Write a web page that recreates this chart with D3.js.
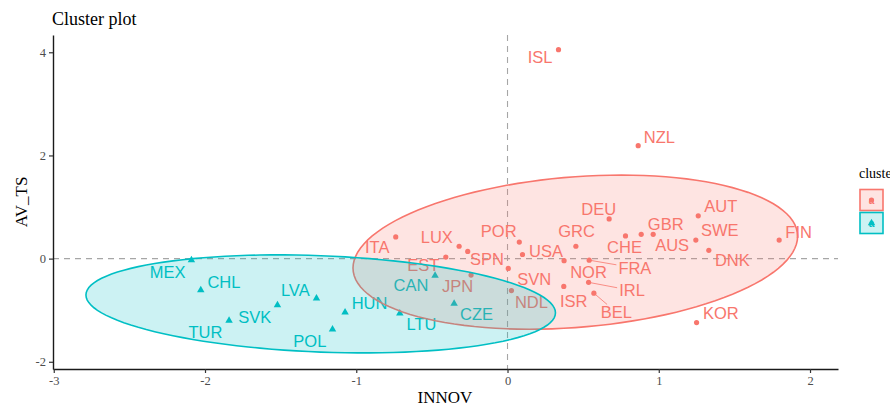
<!DOCTYPE html>
<html><head><meta charset="utf-8">
<script src="https://cdn.jsdelivr.net/npm/d3@7/dist/d3.min.js"></script>
<style>body{margin:0;background:#fff;} svg{display:block;}</style>
</head><body><svg id="chart" width="890" height="407"></svg>
<script>
// ---------------- data ----------------
const countries1 = ["ISL","NZL","DEU","AUT","GBR","CHE","AUS","SWE","DNK","FIN","KOR","ITA","LUX","SPN","EST","POR","USA","GRC","SVN","JPN","NDL","NOR","FRA","ISR","IRL","BEL"];
const innov1 = [0.337,0.864,0.672,1.261,0.884,0.780,0.963,1.245,1.331,1.796,1.250,-0.739,-0.320,-0.263,-0.408,0.078,0.099,0.452,0.005,-0.241,0.026,0.374,0.540,0.372,0.536,0.571];
const avts1  = [4.05,2.19,0.77,0.83,0.47,0.44,0.47,0.36,0.16,0.36,-1.24,0.42,0.24,0.14,0.03,0.32,0.08,0.24,-0.19,-0.32,-0.62,-0.04,-0.03,-0.54,-0.46,-0.67];
const countries2 = ["MEX","CHL","LVA","SVK","TUR","POL","HUN","LTU","CAN","CZE"];
const innov2 = [-2.090,-2.028,-1.263,-1.521,-1.841,-1.157,-1.074,-0.712,-0.479,-0.353];
const avts2  = [-0.03,-0.61,-0.77,-0.90,-1.20,-1.37,-1.04,-1.06,-0.33,-0.87];
const clusterNames = ["1","2"];
const xTicks = [-3,-2,-1,0,1,2];
const yTicks = [-2,0,2,4];
const titleText = "Cluster plot", xTitle = "INNOV", yTitle = "AV_TS", legendTitle = "cluster";

// ---------------- layout / style ----------------
const colors = ["#F8766D","#00BFC4"];
const labelOffsets = { // pixel offsets of repelled labels (label centre - point)
  ISL:[-18.4,7.8], NZL:[21.2,-8.5], DEU:[-10.5,-9.5], AUT:[22.5,-9.9], GBR:[24.5,-10.1], CHE:[-1,10.7],
  AUS:[19,11], SWE:[24,-10], DNK:[23.5,9.8], FIN:[19.5,-7.9], KOR:[24.3,-9.2], ITA:[-18.5,10],
  LUX:[-22.3,-9], SPN:[19.3,7.4], EST:[-22.4,7.7], POR:[-20.6,-10.9], USA:[23.5,-3.3], GRC:[0.7,-15.4],
  SVN:[26,10.8], JPN:[-13.5,11.2], NDL:[20,11.8], NOR:[24.4,11], FRA:[45.7,7.8], ISR:[10,14.6],
  IRL:[43.4,8.2], BEL:[22.5,19.2],
  MEX:[-23.7,11.7], CHL:[23.2,-8.3], LVA:[-21.2,-7.9], SVK:[-22.7,11.7], TUR:[-23.7,11.1],
  POL:[-22.7,11.5], HUN:[24.5,-9.4], LTU:[21.7,10.6], CAN:[-24.1,9.8], CZE:[22.5,11]
};
const labelFont = 16.5, capH = labelFont*0.716;

const svg = d3.select("#chart");
const x = d3.scaleLinear().domain([-3.005, 2.185]).range([53, 838]);
const y = d3.scaleLinear().domain([-2.14, 4.335]).range([369, 35]);

// clusters
const clusters = [
  {name: clusterNames[0], pts: countries1.map((c,i)=>({name:c, x:innov1[i], y:avts1[i]}))},
  {name: clusterNames[1], pts: countries2.map((c,i)=>({name:c, x:innov2[i], y:avts2[i]}))}
];

// MASS::cov.trob
function covTrob(P, nu=5, maxit=25, tol=0.01){
  const n = P.length, p = 2;
  let loc = [d3.mean(P,d=>d[0]), d3.mean(P,d=>d[1])];
  let w = P.map(()=>1), X;
  for(let it=0; it<maxit; it++){
    const w0 = w.slice();
    X = P.map(d=>[d[0]-loc[0], d[1]-loc[1]]);
    const sw = d3.sum(w);
    let s11=0,s12=0,s22=0;
    X.forEach((v,i)=>{ s11+=w[i]/sw*v[0]*v[0]; s12+=w[i]/sw*v[0]*v[1]; s22+=w[i]/sw*v[1]*v[1]; });
    const det = s11*s22 - s12*s12;
    const Q = X.map(v=>(s22*v[0]*v[0] - 2*s12*v[0]*v[1] + s11*v[1]*v[1])/det);
    w = Q.map(q=>(nu+p)/(nu+q));
    const sw2 = d3.sum(w);
    loc = [d3.sum(P,(d,i)=>w[i]*d[0])/sw2, d3.sum(P,(d,i)=>w[i]*d[1])/sw2];
    if (w.every((v,i)=>Math.abs(v-w0[i])<tol)) break;
  }
  let c11=0,c12=0,c22=0;
  X.forEach((v,i)=>{ c11+=w[i]*v[0]*v[0]; c12+=w[i]*v[0]*v[1]; c22+=w[i]*v[1]*v[1]; });
  return {center:loc, cov:[c11/n, c12/n, c22/n]};
}
function ellipse(pts, level=0.95, seg=120){
  const P = pts.map(d=>[d.x,d.y]);
  const {center, cov} = covTrob(P);
  const dfd = P.length - 1;
  const qf = (dfd/2)*(Math.pow(1-level, -2/dfd) - 1);
  const r = Math.sqrt(2*qf);
  const a = Math.sqrt(cov[0]), b = cov[1]/a, c = Math.sqrt(cov[2]-b*b);
  const out = [];
  for(let k=0;k<=seg;k++){
    const t = k*2*Math.PI/seg, ct=Math.cos(t), st=Math.sin(t);
    out.push([center[0] + r*ct*a, center[1] + r*(ct*b + st*c)]);
  }
  return out;
}

// reference lines
const g = svg.append("g");
g.append("line").attr("x1",x(0)).attr("x2",x(0)).attr("y1",35).attr("y2",369)
  .attr("stroke","#A6A6A6").attr("stroke-width",1.1).attr("stroke-dasharray","6,5");
g.append("line").attr("x1",53).attr("x2",838).attr("y1",y(0)).attr("y2",y(0))
  .attr("stroke","#A6A6A6").attr("stroke-width",1.1).attr("stroke-dasharray","6,5");

// points
const triangle = d3.symbol().type(d3.symbolTriangle).size(24);
clusters.forEach((cl,ci)=>{
  const col = colors[ci];
  cl.pts.forEach(d=>{
    if(ci===0) g.append("circle").attr("cx",x(d.x)).attr("cy",y(d.y)).attr("r",2.6).attr("fill",col);
    else g.append("path").attr("d",triangle).attr("transform",`translate(${x(d.x)},${y(d.y)})`).attr("fill",col);
  });
});

// labels + segments
clusters.forEach((cl,ci)=>{
  const col = colors[ci];
  cl.pts.forEach(d=>{
    const px = x(d.x), py = y(d.y);
    const off = labelOffsets[d.name] || [0,-12];
    const cx = px+off[0], cy = py+off[1];
    const t = g.append("text").attr("x",cx).attr("y",cy+capH/2).attr("text-anchor","middle")
      .attr("font-family","'Liberation Sans', Arial, sans-serif").attr("font-size",labelFont)
      .attr("fill",col).text(d.name);
    const bw = t.node().getComputedTextLength()/2 + 2, bh = capH/2 + 2;
    const ddx = Math.max(0, Math.abs(px-cx)-bw), ddy = Math.max(0, Math.abs(py-cy)-bh);
    if (Math.hypot(ddx,ddy) > 10){
      const vx = cx-px, vy = cy-py;
      const s = Math.min(Math.abs(vx)>0 ? (Math.abs(vx)-bw)/Math.abs(vx) : 1, Math.abs(vy)>0 ? (Math.abs(vy)-bh)/Math.abs(vy) : 1);
      const tt = Math.max(Math.max(0,(Math.abs(vx)-bw)/Math.abs(vx)), Math.max(0,(Math.abs(vy)-bh)/Math.abs(vy)));
      g.append("line").attr("x1",px).attr("y1",py).attr("x2",px+vx*tt).attr("y2",py+vy*tt)
        .attr("stroke",col).attr("stroke-width",0.8);
    }
  });
});

// ellipses
const line = d3.line().x(d=>x(d[0])).y(d=>y(d[1]));
clusters.forEach((cl,ci)=>{
  g.append("path").attr("d", line(ellipse(cl.pts))+"Z")
    .attr("fill",colors[ci]).attr("fill-opacity",0.2)
    .attr("stroke",colors[ci]).attr("stroke-width",1.6);
});

// axes
const serif = "'Liberation Serif','Times New Roman',serif";
const xa = svg.append("g").attr("transform","translate(0,369)")
  .call(d3.axisBottom(x).tickValues(xTicks).tickFormat(d=>String(d)).tickSize(4).tickSizeOuter(0).tickPadding(3));
const ya = svg.append("g").attr("transform","translate(53,0)")
  .call(d3.axisLeft(y).tickValues(yTicks).tickFormat(d=>String(d)).tickSize(4).tickSizeOuter(0).tickPadding(3));
[xa,ya].forEach(a=>{
  a.select(".domain").attr("stroke","#1a1a1a").attr("stroke-width",1.4);
  a.selectAll(".tick line").attr("stroke","#333").attr("stroke-width",1.2);
  a.selectAll(".tick text").attr("fill","#4D4D4D").attr("font-family",serif).attr("font-size",12.5);
});

// titles
svg.append("text").attr("x",52).attr("y",25).attr("font-family",serif).attr("font-size",18).attr("fill","#000").text(titleText);
svg.append("text").attr("x",445).attr("y",403).attr("text-anchor","middle").attr("font-family",serif).attr("font-size",17).attr("fill","#000").text(xTitle);
svg.append("text").attr("transform","translate(27,202) rotate(-90)").attr("text-anchor","middle").attr("font-family",serif).attr("font-size",17).attr("fill","#000").text(yTitle);

// legend
svg.append("text").attr("x",859).attr("y",178).attr("font-family",serif).attr("font-size",14).attr("fill","#000").text(legendTitle);
clusters.forEach((cl,ci)=>{
  const ky = 189.5 + ci*23, kx = 860;
  const lg = svg.append("g");
  lg.append("rect").attr("x",kx).attr("y",ky).attr("width",23).attr("height",21)
    .attr("fill",colors[ci]).attr("fill-opacity",0.2).attr("stroke",colors[ci]).attr("stroke-width",1.6);
  if(ci===0) lg.append("circle").attr("cx",kx+11.5).attr("cy",ky+10.5).attr("r",2.6).attr("fill",colors[ci]);
  else lg.append("path").attr("d",triangle).attr("transform",`translate(${kx+11.5},${ky+10.5})`).attr("fill",colors[ci]);
  lg.append("text").attr("x",kx+11.5).attr("y",ky+14).attr("text-anchor","middle")
    .attr("font-family","'Liberation Sans',Arial,sans-serif").attr("font-size",10).attr("font-weight","bold")
    .attr("fill",colors[ci]).text("a");
});
</script></body></html>
